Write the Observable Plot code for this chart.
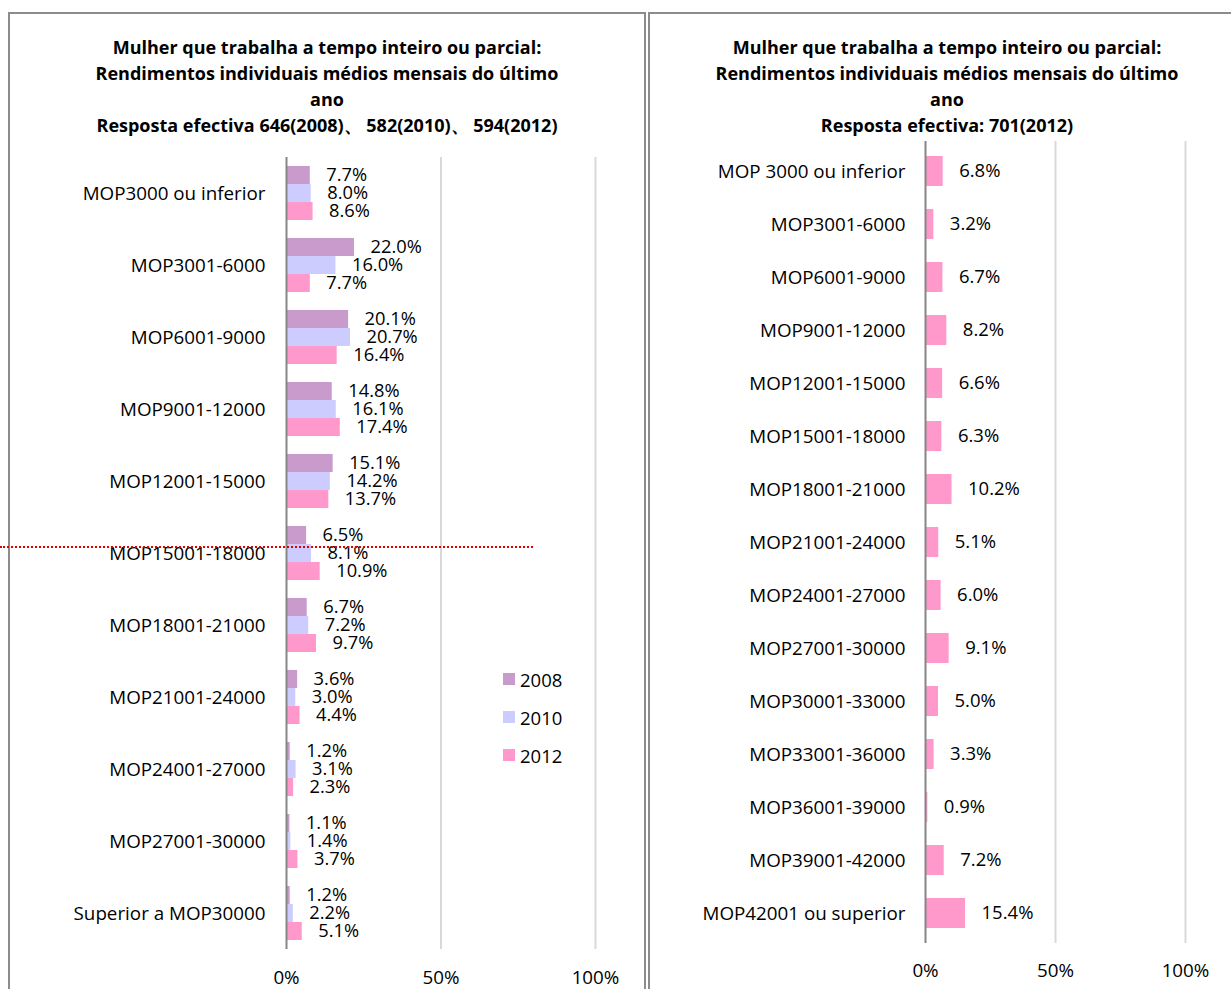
<!DOCTYPE html>
<html>
<head>
<meta charset="utf-8">
<script src="https://cdn.jsdelivr.net/npm/d3@7"></script>
<script src="https://cdn.jsdelivr.net/npm/@observablehq/plot@0.6"></script>
<style>
  html, body { margin: 0; padding: 0; background: #fff; }
  body { width: 1231px; height: 989px; position: relative; overflow: hidden; font-family: "Open Sans", Lato, sans-serif; }
  .panel { position: absolute; border-left: 2px solid #8c8c8c; border-top: 2px solid #8c8c8c; border-right: 2px solid #8c8c8c; background: #fff; }
  .title { position: absolute; text-align: center; font-weight: bold; font-size: 18px; line-height: 26px; color: #000; white-space: nowrap; }
  .chart { position: absolute; }
  .legend { position: absolute; font-size: 18.5px; color: #000; }
  .legend div { display: flex; align-items: center; height: 38px; }
  .legend span.sw { display: inline-block; width: 12px; height: 12px; margin-right: 5px; }
  .redline { position: absolute; left: 0; top: 546px; width: 533px; height: 0; border-top: 2px dotted #e00000; }
</style>
</head>
<body>
<div class="panel" id="p1" style="left:8px; top:12px; width:634px; height:990px;"></div>
<div class="panel" id="p2" style="left:648px; top:12px; width:600px; height:990px;"></div>
<div class="title" id="t1" style="left:27px; width:600px; top:34px;"></div>
<div class="title" id="t2" style="left:647px; width:600px; top:34px;"></div>
<div class="chart" id="c1" style="left:0px; top:140px;"></div>
<div class="chart" id="c2" style="left:650px; top:125px;"></div>
<div class="legend" id="lg" style="left:503px; top:660px;"></div>
<div class="redline"></div>
<script>
// ---- Data ----
const title1 = ["Mulher que trabalha a tempo inteiro ou parcial:", "Rendimentos individuais médios mensais do último", "ano", "Resposta efectiva 646(2008)、 582(2010)、 594(2012)"];
const title2 = ["Mulher que trabalha a tempo inteiro ou parcial:", "Rendimentos individuais médios mensais do último", "ano", "Resposta efectiva: 701(2012)"];

const cats1 = ["MOP3000 ou inferior", "MOP3001-6000", "MOP6001-9000", "MOP9001-12000", "MOP12001-15000", "MOP15001-18000", "MOP18001-21000", "MOP21001-24000", "MOP24001-27000", "MOP27001-30000", "Superior a MOP30000"];
const years = ["2008", "2010", "2012"];
const v2008 = [7.7, 22.0, 20.1, 14.8, 15.1, 6.5, 6.7, 3.6, 1.2, 1.1, 1.2];
const v2010 = [8.0, 16.0, 20.7, 16.1, 14.2, 8.1, 7.2, 3.0, 3.1, 1.4, 2.2];
const v2012 = [8.6, 7.7, 16.4, 17.4, 13.7, 10.9, 9.7, 4.4, 2.3, 3.7, 5.1];
const yearColors = ["#C99BCC", "#CCCCFF", "#FF99CC"];

const cats2 = ["MOP 3000 ou inferior", "MOP3001-6000", "MOP6001-9000", "MOP9001-12000", "MOP12001-15000", "MOP15001-18000", "MOP18001-21000", "MOP21001-24000", "MOP24001-27000", "MOP27001-30000", "MOP30001-33000", "MOP33001-36000", "MOP36001-39000", "MOP39001-42000", "MOP42001 ou superior"];
const v2 = [6.8, 3.2, 6.7, 8.2, 6.6, 6.3, 10.2, 5.1, 6.0, 9.1, 5.0, 3.3, 0.9, 7.2, 15.4];

const xTicks = [0, 0.5, 1];

// ---- Titles ----
document.getElementById("t1").innerHTML = title1.map(s => `<div>${s}</div>`).join("");
document.getElementById("t2").innerHTML = title2.map(s => `<div>${s}</div>`).join("");

// ---- Left chart ----
const series = [v2008, v2010, v2012];
const data1 = [];
cats1.forEach((c, i) => years.forEach((y, j) => data1.push({cat: c, year: y, value: series[j][i] / 100})));
const fmt = v => d3.format(".1f")(v * 100) + "%";
const font = "'Open Sans', Lato, sans-serif";

const chart1 = Plot.plot({
  width: 645,
  height: 850,
  marginLeft: 286,
  marginRight: 50,
  marginTop: 15,
  marginBottom: 40,
  style: {fontFamily: font, fontSize: "18.8px", color: "#000", background: "transparent"},
  x: {domain: [0, 1], ticks: xTicks, tickFormat: d3.format(".0%"), tickSize: 0, tickPadding: 21, label: null, axis: "bottom"},
  y: {domain: years, axis: null, paddingInner: 0, paddingOuter: 0.4},
  fy: {domain: cats1, padding: 0, axis: "left", tickSize: 0, tickPadding: 21, label: null},
  color: {domain: years, range: yearColors},
  marks: [
    Plot.ruleX([0.5, 1], {stroke: "#D9D9D9", strokeWidth: 2}),
    Plot.barX(data1, {x: "value", y: "year", fy: "cat", fill: "year", inset: 0}),
    Plot.ruleX([0], {stroke: "#868686", strokeWidth: 2}),
    Plot.text(data1, {x: "value", y: "year", fy: "cat", text: d => fmt(d.value), textAnchor: "start", dx: 16, fill: "#000", fontSize: 18.3})
  ]
});
document.getElementById("c1").appendChild(chart1);

// ---- Legend ----
document.getElementById("lg").innerHTML = years.map((y, i) =>
  `<div><span class="sw" style="background:${yearColors[i]}"></span>${y}</div>`).join("");

// ---- Right chart ----
const data2 = cats2.map((c, i) => ({cat: c, value: v2[i] / 100}));
const chart2 = Plot.plot({
  width: 581,
  height: 858,
  marginLeft: 275,
  marginRight: 46,
  marginTop: 16,
  marginBottom: 40,
  style: {fontFamily: font, fontSize: "18.8px", color: "#000", background: "transparent"},
  x: {domain: [0, 1], ticks: xTicks, tickFormat: d3.format(".0%"), tickSize: 0, tickPadding: 20, label: null},
  y: {domain: cats2, paddingInner: 0.44, paddingOuter: 0.22, tickSize: 0, tickPadding: 20, label: null},
  marks: [
    Plot.ruleX([0.5, 1], {stroke: "#D9D9D9", strokeWidth: 2}),
    Plot.barX(data2, {x: "value", y: "cat", fill: "#FF99CC"}),
    Plot.ruleX([0], {stroke: "#868686", strokeWidth: 2}),
    Plot.text(data2, {x: "value", y: "cat", text: d => fmt(d.value), textAnchor: "start", dx: 16, fill: "#000", fontSize: 18.5})
  ]
});
document.getElementById("c2").appendChild(chart2);
</script>
</body>
</html>
